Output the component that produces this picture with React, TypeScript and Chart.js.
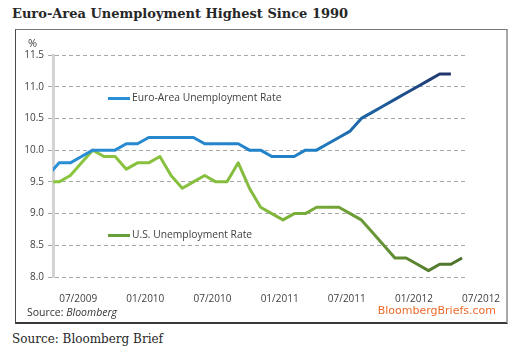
import React, { useEffect, useRef } from 'react';
import { Chart, registerables } from 'chart.js';

Chart.register(...registerables);

// Monthly categories (index 0 = 06/2009)
const months = [
  '06/2009', '07/2009', '08/2009', '09/2009', '10/2009', '11/2009', '12/2009',
  '01/2010', '02/2010', '03/2010', '04/2010', '05/2010', '06/2010', '07/2010', '08/2010', '09/2010', '10/2010', '11/2010', '12/2010',
  '01/2011', '02/2011', '03/2011', '04/2011', '05/2011', '06/2011', '07/2011', '08/2011', '09/2011', '10/2011', '11/2011', '12/2011',
  '01/2012', '02/2012', '03/2012', '04/2012', '05/2012', '06/2012', '07/2012',
];

const euroRate = [
  9.6, 9.8, 9.8, 9.9, 10.0, 10.0, 10.0,
  10.1, 10.1, 10.2, 10.2, 10.2, 10.2, 10.2, 10.1, 10.1, 10.1, 10.1, 10.0,
  10.0, 9.9, 9.9, 9.9, 10.0, 10.0, 10.1, 10.2, 10.3, 10.5, 10.6, 10.7,
  10.8, 10.9, 11.0, 11.1, 11.2, 11.2,
];

const usRate = [
  9.5, 9.5, 9.6, 9.8, 10.0, 9.9, 9.9,
  9.7, 9.8, 9.8, 9.9, 9.6, 9.4, 9.5, 9.6, 9.5, 9.5, 9.8, 9.4,
  9.1, 9.0, 8.9, 9.0, 9.0, 9.1, 9.1, 9.1, 9.0, 8.9, 8.7, 8.5,
  8.3, 8.3, 8.2, 8.1, 8.2, 8.2, 8.3,
];

const tickLabels = ['07/2009', '01/2010', '07/2010', '01/2011', '07/2011', '01/2012', '07/2012'];
const yTicks = [8.0, 8.5, 9.0, 9.5, 10.0, 10.5, 11.0, 11.5];

const seriesNames = ['Euro-Area Unemployment Rate', 'U.S. Unemployment Rate'];

const FONT = "'Open Sans', 'DejaVu Sans', sans-serif";
const TEXT = '#3f3f3f';

function makeGradient(chart: any, stops: [number, string][], fallback: string) {
  const area = chart.chartArea;
  if (!area) return fallback;
  const g = chart.ctx.createLinearGradient(area.left, 0, area.right, 0);
  stops.forEach(([o, c]) => g.addColorStop(o, c));
  return g;
}

const legendPlugin = {
  id: 'inlineLegend',
  afterDatasetsDraw(chart: any) {
    const { ctx, scales } = chart;
    const y = scales.y;
    const left = chart.chartArea.left;
    const items = [
      { label: seriesNames[0], color: '#2a8fd6', v: 10.82 },
      { label: seriesNames[1], color: '#67a03a', v: 8.66 },
    ];
    ctx.save();
    items.forEach((it) => {
      const py = Math.round(y.getPixelForValue(it.v)) + 0.5;
      ctx.strokeStyle = it.color;
      ctx.lineWidth = 3;
      ctx.beginPath();
      ctx.moveTo(left + 55, py);
      ctx.lineTo(left + 77, py);
      ctx.stroke();
      ctx.fillStyle = TEXT;
      ctx.font = `10.3px ${FONT}`;
      ctx.textBaseline = 'middle';
      ctx.textAlign = 'left';
      ctx.fillText(it.label, left + 79, py);
    });
    ctx.restore();
  },
};

function ChartBox() {
  const ref = useRef<HTMLCanvasElement | null>(null);
  useEffect(() => {
    if (!ref.current) return;
    const tickIdx = tickLabels.map((l) => months.indexOf(l));
    const chart = new Chart(ref.current, {
      type: 'line',
      data: {
        datasets: [
          {
            label: seriesNames[0],
            data: euroRate.map((v, i) => ({ x: i, y: v })),
            borderColor: (c: any) =>
              makeGradient(c.chart, [[0, '#2b8fd6'], [0.62, '#1f7fc6'], [0.8, '#1d5a9a'], [1, '#222a5c']], '#2b8fd6'),
            borderWidth: 3,
            pointRadius: 0,
            tension: 0,
            borderJoinStyle: 'round',
            clip: 0,
          },
          {
            label: seriesNames[1],
            data: usRate.map((v, i) => ({ x: i, y: v })),
            borderColor: (c: any) =>
              makeGradient(c.chart, [[0, '#8cc63f'], [0.5, '#84bb3e'], [0.75, '#6a9a35'], [1, '#4a6f2a']], '#8cc63f'),
            borderWidth: 3,
            pointRadius: 0,
            tension: 0,
            borderJoinStyle: 'round',
            clip: 0,
          },
        ],
      },
      options: {
        animation: false,
        responsive: false,
        maintainAspectRatio: false,
        layout: { padding: { left: 0, right: 39, top: 25, bottom: 19 } },
        plugins: { legend: { display: false }, tooltip: { enabled: false } },
        scales: {
          x: {
            type: 'linear',
            min: 0.45,
            max: 37.44,
            grid: { display: false },
            border: { display: false },
            afterBuildTicks: (scale: any) => {
              scale.ticks = tickIdx.map((v) => ({ value: v }));
            },
            afterFit: (scale: any) => {
              scale.height = 26;
            },
            ticks: {
              autoSkip: false,
              maxRotation: 0,
              minRotation: 0,
              labelOffset: 19,
              padding: 8,
              color: TEXT,
              font: { family: FONT, size: 10 },
              callback: (v: any) => {
                const i = tickIdx.indexOf(Number(v));
                return i >= 0 ? tickLabels[i] : '';
              },
            },
          },
          y: {
            min: 8,
            max: 11.5,
            afterBuildTicks: (scale: any) => {
              scale.ticks = yTicks.map((v) => ({ value: v }));
            },
            afterFit: (scale: any) => {
              scale.width = 37;
            },
            grid: { color: '#a8a8a8', lineWidth: 1, tickLength: 5, drawTicks: true },
            border: { display: true, color: '#d3d3d3', width: 3, dash: [4, 3] },
            ticks: {
              padding: 4,
              color: TEXT,
              font: { family: FONT, size: 10 },
              callback: (v: any) => Number(v).toFixed(1),
            },
          },
        },
      },
      plugins: [legendPlugin],
    } as any);
    return () => chart.destroy();
  }, []);
  return (
    <canvas
      ref={ref}
      width={490}
      height={292}
      style={{ position: 'absolute', left: 16, top: 30, width: 490, height: 292 }}
    />
  );
}

export default function App() {
  return (
    <div style={{ position: 'absolute', left: 0, top: 0, width: 529, height: 357, background: '#fff', overflow: 'hidden' }}>
      <div
        style={{
          position: 'absolute', left: 12, top: 6, font: "bold 13px 'DejaVu Serif', serif",
          color: '#262626', whiteSpace: 'nowrap',
        }}
      >
        Euro-Area Unemployment Highest Since 1990
      </div>
      <div
        style={{
          position: 'absolute', left: 15, top: 29, width: 493, height: 295, boxSizing: 'border-box',
          borderLeft: '1px solid #4a4a4a', borderTop: '1px solid #777', borderRight: '2px solid #a8a8a8',
          borderBottom: '2px solid #3a3a3a',
        }}
      />
      <ChartBox />
      <div style={{ position: 'absolute', left: 28, top: 35, font: `11px ${FONT}`, color: TEXT }}>%</div>
      <div style={{ position: 'absolute', left: 27, top: 305, font: `10.5px ${FONT}`, color: '#333', whiteSpace: 'nowrap' }}>
        Source: <i>Bloomberg</i>
      </div>
      <div
        style={{
          position: 'absolute', right: 33, top: 304, font: "11px 'DejaVu Sans', sans-serif",
          color: '#ec6b2d', whiteSpace: 'nowrap',
        }}
      >
        BloombergBriefs.com
      </div>
      <div
        style={{
          position: 'absolute', left: 12, top: 332, font: "12px 'DejaVu Serif', serif",
          color: '#262626', whiteSpace: 'nowrap',
        }}
      >
        Source: Bloomberg Brief
      </div>
    </div>
  );
}
